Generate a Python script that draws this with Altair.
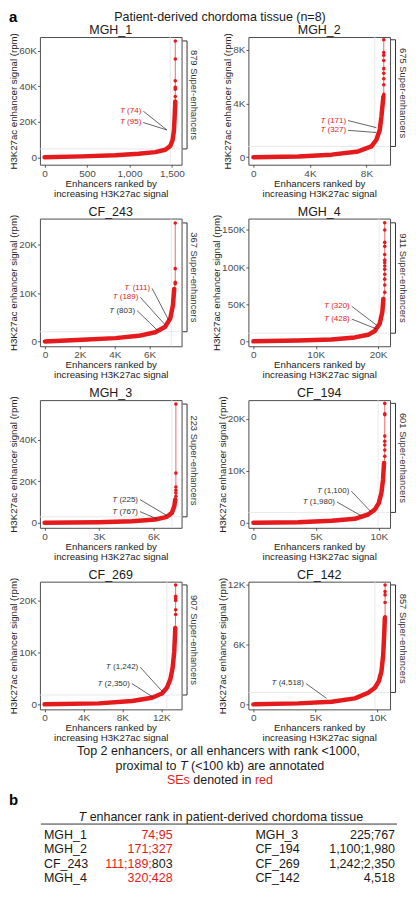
import altair as alt
import pandas as pd

FONT = "Liberation Sans"
RED = "#e41a1c"
INK = "#1a1a1a"
GREY = "#4d4d4d"

# ---------------- data ----------------
PANELS = ["MGH_1", "MGH_2", "CF_243", "MGH_4", "MGH_3", "CF_194", "CF_269", "CF_142"]
SE_COUNT = {"MGH_1": 879, "MGH_2": 675, "CF_243": 367, "MGH_4": 911,
            "MGH_3": 223, "CF_194": 601, "CF_269": 907, "CF_142": 857}

X_DOMAIN = {"MGH_1": [-55, 1614], "MGH_2": [-353, 9668], "CF_243": [-286, 7829],
            "MGH_4": [-800, 21920], "MGH_3": [-258, 7536], "CF_194": [-398, 10900],
            "CF_269": [-482, 14080], "CF_142": [-402, 11010]}
Y_DOMAIN = {"MGH_1": [-4200, 67800], "MGH_2": [-560, 8955], "CF_243": [-1000, 25400],
            "MGH_4": [-6600, 165400], "MGH_3": [-2400, 59200], "CF_194": [-960, 23630],
            "CF_269": [-960, 23630], "CF_142": [-500, 12330]}

X_TICKS = {"MGH_1": [0, 500, 1000, 1500], "MGH_2": [0, 4000, 8000],
           "CF_243": [0, 2000, 4000, 6000], "MGH_4": [0, 10000, 20000],
           "MGH_3": [0, 3000, 6000], "CF_194": [0, 5000, 10000],
           "CF_269": [0, 4000, 8000, 12000], "CF_142": [0, 5000, 10000]}
X_TICK_LABELS = {"MGH_1": ["0", "500", "1,000", "1,500"], "MGH_2": ["0", "4K", "8K"],
                 "CF_243": ["0", "2K", "4K", "6K"], "MGH_4": ["0", "10K", "20K"],
                 "MGH_3": ["0", "3K", "6K"], "CF_194": ["0", "5K", "10K"],
                 "CF_269": ["0", "4K", "8K", "12K"], "CF_142": ["0", "5K", "10K"]}
Y_TICKS = {"MGH_1": [0, 20000, 40000, 60000], "MGH_2": [0, 4000, 8000],
           "CF_243": [0, 10000, 20000], "MGH_4": [0, 50000, 100000, 150000],
           "MGH_3": [0, 20000, 40000], "CF_194": [0, 10000, 20000],
           "CF_269": [0, 10000, 20000], "CF_142": [0, 6000, 12000]}
Y_TICK_LABELS = {"MGH_1": ["0", "20K", "40K", "60K"], "MGH_2": ["0", "4K", "8K"],
                 "CF_243": ["0", "10K", "20K"], "MGH_4": ["0", "50K", "100K", "150K"],
                 "MGH_3": ["0", "20K", "40K"], "CF_194": ["0", "10K", "20K"],
                 "CF_269": ["0", "10K", "20K"], "CF_142": ["0", "6K", "12K"]}

# dense part of each ranked-enhancer curve
CURVE_RANK = {
    "MGH_1": [0, 442, 834, 1108, 1305, 1422, 1481, 1508, 1524, 1532, 1540],
    "MGH_2": [0, 3176, 5526, 7408, 8349, 8702, 8937, 9055, 9197],
    "CF_243": [0, 2133, 4038, 5371, 6324, 6895, 7181, 7333, 7410],
    "MGH_4": [0, 7200, 12530, 16270, 18400, 19470, 20270, 20690, 20850],
    "MGH_3": [0, 2980, 4808, 6092, 6729, 7003, 7135, 7190],
    "CF_194": [0, 3580, 6230, 8090, 9150, 9680, 10000, 10210, 10340, 10420],
    "CF_269": [0, 5570, 8985, 11040, 12060, 12575, 12920, 13160, 13330, 13435],
    "CF_142": [0, 3620, 6300, 8180, 9250, 9790, 10110, 10320, 10460, 10540, 10590],
}
CURVE_SIGNAL = {
    "MGH_1": [0, 500, 1100, 2000, 2900, 4200, 6400, 9600, 15000, 22000, 31400],
    "MGH_2": [0, 50, 190, 430, 800, 1300, 2000, 3000, 4500],
    "CF_243": [0, 330, 680, 1150, 1900, 3050, 4750, 7450, 10850],
    "MGH_4": [0, 1300, 2600, 5300, 8800, 14000, 24000, 40000, 57000],
    "MGH_3": [0, 300, 800, 1600, 2900, 4800, 8000, 11200],
    "CF_194": [0, 130, 380, 770, 1600, 2550, 3800, 5750, 8300, 11500],
    "CF_269": [0, 190, 640, 1280, 2100, 3200, 4800, 7000, 10200, 14700],
    "CF_142": [0, 100, 270, 600, 1170, 1670, 2330, 3330, 5000, 7000, 8700],
}
# sparse top enhancers (individual dots)
TOP_RANK = {"MGH_1": 1540, "MGH_2": 9224, "CF_243": 7467, "MGH_4": 21070,
            "MGH_3": 7223, "CF_194": 10480, "CF_269": 13470, "CF_142": 10610}
TOP_SIGNAL = {
    "MGH_1": [34200, 38400, 39400, 43100, 55400, 65600],
    "MGH_2": [4680, 5400, 5840, 6250, 6600, 7200, 7600, 7800, 8750],
    "CF_243": [11900, 12200, 15050, 24500],
    "MGH_4": [66000, 75900, 83800, 90400, 97000, 101500, 105900, 109400, 116900,
              128000, 133300, 150000, 159700],
    "MGH_3": [12800, 14400, 15700, 17300, 24000, 57300],
    "CF_194": [12800, 14000, 15000, 15700, 16700, 20800, 21000, 23000],
    "CF_269": [17300, 18200, 20000, 20400, 20800, 23000],
    "CF_142": [8800, 10230, 11000, 11330, 12000],
}
SE_CUTOFF = {"MGH_1": 4700, "MGH_2": 800, "CF_243": 2000, "MGH_4": 11000,
             "MGH_3": 2900, "CF_194": 2000, "CF_269": 1800, "CF_142": 1200}
CUTOFF_RANK = {"MGH_1": 1481, "MGH_2": 8588, "CF_243": 7238, "MGH_4": 20160,
               "MGH_3": 7003, "CF_194": 9944, "CF_269": 12575, "CF_142": 9790}

# T enhancer annotations
T_RANK_TEXT = {"MGH_1": ["74", "95"], "MGH_2": ["171", "327"],
               "CF_243": ["111", "189", "803"], "MGH_4": ["320", "428"],
               "MGH_3": ["225", "767"], "CF_194": ["1,100", "1,980"],
               "CF_269": ["1,242", "2,350"], "CF_142": ["4,518"]}
T_IS_SE = {"MGH_1": [True, True], "MGH_2": [True, True], "CF_243": [True, True, False],
           "MGH_4": [True, True], "MGH_3": [False, False], "CF_194": [False, False],
           "CF_269": [False, False], "CF_142": [False]}
T_LABEL_X = {"MGH_1": [1163, 1163], "MGH_2": [6700, 6700], "CF_243": [6140, 5470, 5280],
             "MGH_4": [15780, 15780], "MGH_3": [5250, 5250], "CF_194": [7810, 6670],
             "CF_269": [9830, 8970], "CF_142": [4230]}
T_LABEL_Y = {"MGH_1": [26000, 19600], "MGH_2": [2730, 2000], "CF_243": [10980, 9100, 6370],
             "MGH_4": [47200, 30000], "MGH_3": [11200, 5400], "CF_194": [6100, 4000],
             "CF_269": [7150, 4000], "CF_142": [2100]}
T_POINT_X = {"MGH_1": [1441, 1441], "MGH_2": [8702, 8702], "CF_243": [7086, 6895, 6476],
             "MGH_4": [19730, 19730], "MGH_3": [6729, 6180], "CF_194": [9360, 8570],
             "CF_269": [12130, 11140], "CF_142": [5900]}
T_POINT_Y = {"MGH_1": [15400, 15400], "MGH_2": [2200, 1840], "CF_243": [4400, 3400, 2200],
             "MGH_4": [22000, 16800], "MGH_3": [3500, 1900], "CF_194": [2170, 1400],
             "CF_269": [2430, 1400], "CF_142": [600]}

TABLE_LEFT_NAMES = ["MGH_1", "MGH_2", "CF_243", "MGH_4"]
TABLE_LEFT_SE = ["74;95", "171;327", "111;189;", "320;428"]
TABLE_LEFT_OTHER = ["", "", "803", ""]
TABLE_RIGHT_NAMES = ["MGH_3", "CF_194", "CF_269", "CF_142"]
TABLE_RIGHT_VALUES = ["225;767", "1,100;1,980", "1,242;2,350", "4,518"]

# ---------------- helpers ----------------
_AW = {' ': 278, '(': 333, ')': 333, ',': 278, '-': 333, '.': 278, ';': 278, '<': 584,
       '=': 584, '_': 556, 'a': 556, 'b': 556, 'c': 500, 'd': 556, 'e': 556, 'f': 278,
       'g': 556, 'h': 556, 'i': 222, 'j': 222, 'k': 500, 'l': 222, 'm': 833, 'n': 556,
       'o': 556, 'p': 556, 'q': 556, 'r': 333, 's': 500, 't': 278, 'u': 556, 'v': 500,
       'w': 722, 'x': 500, 'y': 500, 'z': 500, 'C': 722, 'E': 667, 'F': 611, 'G': 778,
       'H': 722, 'K': 667, 'M': 833, 'P': 667, 'S': 667, 'T': 611}


def tw(s, size):
    return sum(_AW.get(c, 556) for c in s) * size / 1000.0


def one():
    return pd.DataFrame({"k": [0]})


def txt(x, y, s, size, color=INK, align="left", italic=False, bold=False):
    kw = dict(align=align, baseline="middle", fontSize=size, color=color, font=FONT)
    if italic:
        kw["fontStyle"] = "italic"
    if bold:
        kw["fontWeight"] = "bold"
    return alt.Chart(one()).mark_text(**kw).encode(
        x=alt.value(x), y=alt.value(y), text=alt.value(s))


def seg_line(segs, cx, y, size):
    total = sum(tw(s, size) for s, _, _ in segs)
    x = cx - total / 2.0
    out = []
    for s, col, it in segs:
        lead = len(s) - len(s.lstrip(" "))
        out.append(txt(x + tw(" " * lead, size), y, s.strip(), size, col, "left", it))
        x += tw(s, size)
    return out


def lab_expr(vals, labs):
    e = "''"
    for v, l in reversed(list(zip(vals, labs))):
        e = f"datum.value == {v} ? '{l}' : ({e})"
    return e


W, H = 142, 128
COL_GAP, ROW_GAP = 67, 54


def panel(name, extra):
    xs = alt.Scale(domain=X_DOMAIN[name], nice=False, zero=False)
    ys = alt.Scale(domain=Y_DOMAIN[name], nice=False, zero=False)
    X = alt.X("rank:Q", scale=xs, axis=alt.Axis(
        values=X_TICKS[name], labelExpr=lab_expr(X_TICKS[name], X_TICK_LABELS[name]),
        title=["Enhancers ranked by", "increasing H3K27ac signal"]))
    Y = alt.Y("signal:Q", scale=ys, axis=alt.Axis(
        values=Y_TICKS[name], labelExpr=lab_expr(Y_TICKS[name], Y_TICK_LABELS[name]),
        title="H3K27ac enhancer signal (rpm)"))

    thr = SE_CUTOFF[name]
    top_max = max(TOP_SIGNAL[name])
    layers = []
    layers.append(alt.Chart(pd.DataFrame({"signal": [thr]})).mark_rule(
        color="#e3e3e3", strokeWidth=0.8).encode(y=Y))
    layers.append(alt.Chart(pd.DataFrame({"rank": [CUTOFF_RANK[name]]})).mark_rule(
        color="#e3e3e3", strokeWidth=0.8).encode(x=X))

    cdf = pd.DataFrame({"rank": CURVE_RANK[name], "signal": CURVE_SIGNAL[name]})
    layers.append(alt.Chart(cdf).mark_line(color=RED, strokeWidth=4.5, strokeCap="round",
                                           strokeJoin="round").encode(x=X, y=Y))
    tops = TOP_SIGNAL[name]
    tdf = pd.DataFrame({"rank": [CURVE_RANK[name][-1]] + [TOP_RANK[name]] * len(tops),
                        "signal": [CURVE_SIGNAL[name][-1]] + tops,
                        "o": list(range(len(tops) + 1))})
    layers.append(alt.Chart(tdf).mark_line(color=RED, strokeWidth=1, opacity=0.65).encode(
        x=X, y=Y, order=alt.Order("o:Q")))
    layers.append(alt.Chart(tdf).mark_circle(color=RED, size=13, opacity=1).encode(x=X, y=Y))

    # super-enhancer bracket
    layers.append(alt.Chart(pd.DataFrame({"signal": [thr], "signal2": [top_max]})).mark_rule(
        color="#333333", strokeWidth=1).encode(x=alt.value(W + 5.5), y=Y, y2="signal2:Q"))
    layers.append(alt.Chart(pd.DataFrame({"signal": [thr, top_max]})).mark_rule(
        color="#333333", strokeWidth=1).encode(x=alt.value(W + 1), x2=alt.value(W + 5.5), y=Y))
    layers.append(alt.Chart(pd.DataFrame({"signal": [(thr + top_max) / 2.0]})).mark_text(
        angle=90, align="center", baseline="middle", fontSize=9.4, color="#333333", font=FONT
    ).encode(x=alt.value(W + 12.5), y=Y, text=alt.value(f"{SE_COUNT[name]} Super-enhancers")))

    # T annotations
    for i, lab in enumerate(T_RANK_TEXT[name]):
        col = RED if T_IS_SE[name][i] else "#333333"
        adf = pd.DataFrame({"rank": [T_LABEL_X[name][i]], "signal": [T_LABEL_Y[name][i]],
                            "rank2": [T_POINT_X[name][i]], "signal2": [T_POINT_Y[name][i]]})
        layers.append(alt.Chart(adf).mark_rule(color="#222222", strokeWidth=0.7).encode(
            x=X, y=Y, x2="rank2:Q", y2="signal2:Q"))
        num = f"({lab})"
        layers.append(alt.Chart(adf).mark_text(
            align="right", baseline="middle", dx=-2, fontSize=8, color=col, font=FONT
        ).encode(x=X, y=Y, text=alt.value(num)))
        layers.append(alt.Chart(adf).mark_text(
            align="right", baseline="middle", dx=-2 - tw(" " + num, 8), fontSize=8,
            fontStyle="italic", color=col, font=FONT
        ).encode(x=X, y=Y, text=alt.value("T")))

    layers.append(txt(W / 2.0, -7, name, 12.5, INK, "center"))
    layers.extend(extra)
    return alt.layer(*layers).properties(width=W, height=H)


# header (positions relative to the first panel)
header = [
    txt(-31, -20.5, "a", 15, "#000000", "left", bold=True),
    txt(180.5, -20.5, "Patient-derived chordoma tissue (n=8)", 12.5, INK, "center"),
]

# footer (positions relative to the CF_269 panel)
footer = []
footer.append(txt(179, 170, "Top 2 enhancers, or all enhancers with rank <1000,", 12.5, INK, "center"))
footer += seg_line([("proximal to ", INK, False), ("T", INK, True),
                    (" (<100 kb) are annotated", INK, False)], 180.5, 184.5, 12.5)
footer += seg_line([("SEs", RED, False), (" denoted in ", INK, False), ("red", RED, False)],
                   180.5, 199, 12.5)
footer.append(txt(-31, 219, "b", 15, "#000000", "left", bold=True))
footer += seg_line([("T", INK, True), (" enhancer rank in patient-derived chordoma tissue", INK, False)],
                   181.5, 236, 12.5)
footer.append(alt.Chart(one()).mark_rule(color="#333333", strokeWidth=1).encode(
    x=alt.value(1), x2=alt.value(358), y=alt.value(243)))
ROW_Y = [254, 268.5, 283, 297.5]
for i in range(4):
    y = ROW_Y[i]
    footer.append(txt(4, y, TABLE_LEFT_NAMES[i], 12.5, INK, "left"))
    other = TABLE_LEFT_OTHER[i]
    if other:
        footer.append(txt(133, y, other, 12.5, INK, "right"))
    footer.append(txt(133 - tw(other, 12.5), y, TABLE_LEFT_SE[i], 12.5, RED, "right"))
    footer.append(txt(216, y, TABLE_RIGHT_NAMES[i], 12.5, INK, "left"))
    footer.append(txt(356, y, TABLE_RIGHT_VALUES[i], 12.5, INK, "right"))

charts = []
for n in PANELS:
    extra = header if n == "MGH_1" else (footer if n == "CF_269" else [])
    charts.append(panel(n, extra))

chart = (
    alt.concat(*charts, columns=2, spacing={"row": ROW_GAP, "column": COL_GAP}, bounds="flush")
    .properties(padding=0)
    .configure_view(stroke=GREY, strokeWidth=1)
    .configure_axis(domain=False, grid=False, tickSize=2.5, tickColor="#333333", tickWidth=0.8,
                    labelFont=FONT, labelFontSize=10, labelColor=GREY, labelPadding=1,
                    titleFont=FONT, titleFontSize=9.7, titleFontWeight="normal",
                    titleColor="#222222", labelFlush=False, labelOverlap=False, labelBound=False)
    .configure_axisX(titlePadding=0, titleLineHeight=10)
    .configure_axisY(titlePadding=0)
)
chart.save("out.html", embed_options={"renderer": "svg", "actions": False})
